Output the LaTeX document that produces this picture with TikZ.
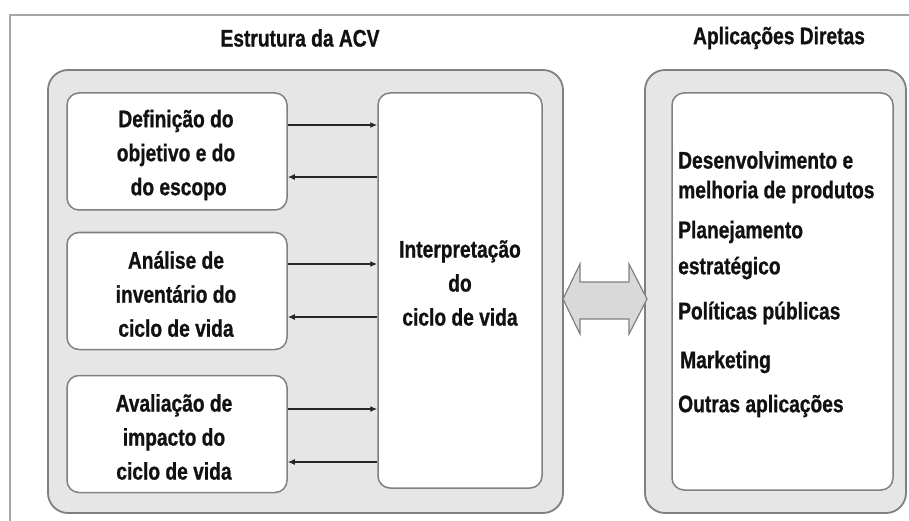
\documentclass[tikz,border=0pt]{standalone}
\usepackage{fontspec}
\setmainfont{Liberation Sans}[FakeStretch=0.8,BoldFeatures={FakeBold=0.8}]
\usetikzlibrary{arrows.meta}
\definecolor{cfill}{HTML}{E6E6E6}
\definecolor{cline}{HTML}{808080}
\definecolor{txt}{HTML}{111111}
\tikzset{
  container/.style={draw=cline, line width=1.8pt, fill=cfill, rounded corners=20pt},
  innerbox/.style={draw=cline, line width=1.5pt, fill=white, rounded corners=12pt},
  lbl/.style={text=txt, font=\fontsize{24}{34}\selectfont\bfseries, align=center, inner sep=0pt},
  rlbl/.style={text=txt, font=\fontsize{24}{34}\selectfont\bfseries, anchor=west, inner sep=0pt},
  conn/.style={draw=black!85, line width=1.6pt, -{Latex[length=7pt,width=6pt]}},
  dblarrow/.style={draw=cline, line width=1.2pt, fill=black!15},
}
\begin{document}
\begin{tikzpicture}[x=1pt,y=-1pt]
\useasboundingbox (0,0) rectangle (909,521);
\fill[white] (0,0) rectangle (909,521);
% frame
\draw[cline!70, line width=1.5pt] (10,521) -- (10,15) -- (909,15);
% titles
\node[lbl] (t1) at (300,38) {Estrutura da ACV};
\node[lbl] (t2) at (779,38) {Aplicações Diretas};
% containers
\draw[container] (48,70) rectangle (563,513);
\draw[container] (645,70) rectangle (906,513);
% left boxes
\node[innerbox, minimum width=220pt, minimum height=117pt] (b1) at (177,151.5) {};
\node[innerbox, minimum width=220pt, minimum height=117pt] (b2) at (177,291) {};
\node[innerbox, minimum width=220pt, minimum height=117pt] (b3) at (177,434) {};
\node[lbl] at (176,155) {Definição do\\objetivo e do\\\ do escopo};
\node[lbl] at (176,294) {Análise de\\inventário do\\ciclo de vida};
\node[lbl] at (174,437) {Avaliação de\\impacto do\\ciclo de vida};
% interpretation
\node[innerbox, minimum width=164pt, minimum height=395pt] (ib) at (460,290.5) {};
\node[lbl] at (460,283) {Interpretação\\do\\ciclo de vida};
% right inner box
\node[innerbox, minimum width=221pt, minimum height=397pt] (rb) at (782.5,291.5) {};
\node[rlbl] at (678,160) {Desenvolvimento e};
\node[rlbl] at (678,192) {melhoria de produtos};
\node[rlbl] at (678,232) {Planejamento};
\node[rlbl] at (678,268) {estratégico};
\node[rlbl] at (678,313) {Políticas públicas};
\node[rlbl] at (680,362) {Marketing};
\node[rlbl] at (678,406) {Outras aplicações};
% arrows
\draw[conn] (b1.east |- 0,125) -- (ib.west |- 0,125);
\draw[conn] (ib.west |- 0,177) -- (b1.east |- 0,177);
\draw[conn] (b2.east |- 0,264) -- (ib.west |- 0,264);
\draw[conn] (ib.west |- 0,317) -- (b2.east |- 0,317);
\draw[conn] (b3.east |- 0,409) -- (ib.west |- 0,409);
\draw[conn] (ib.west |- 0,462) -- (b3.east |- 0,462);
% double arrow
\draw[dblarrow] (563,299) -- (580,264) -- (580,282) -- (629,282) -- (629,264) -- (647,299)
  -- (629,334) -- (629,319) -- (580,319) -- (580,334) -- cycle;
\end{tikzpicture}
\end{document}
